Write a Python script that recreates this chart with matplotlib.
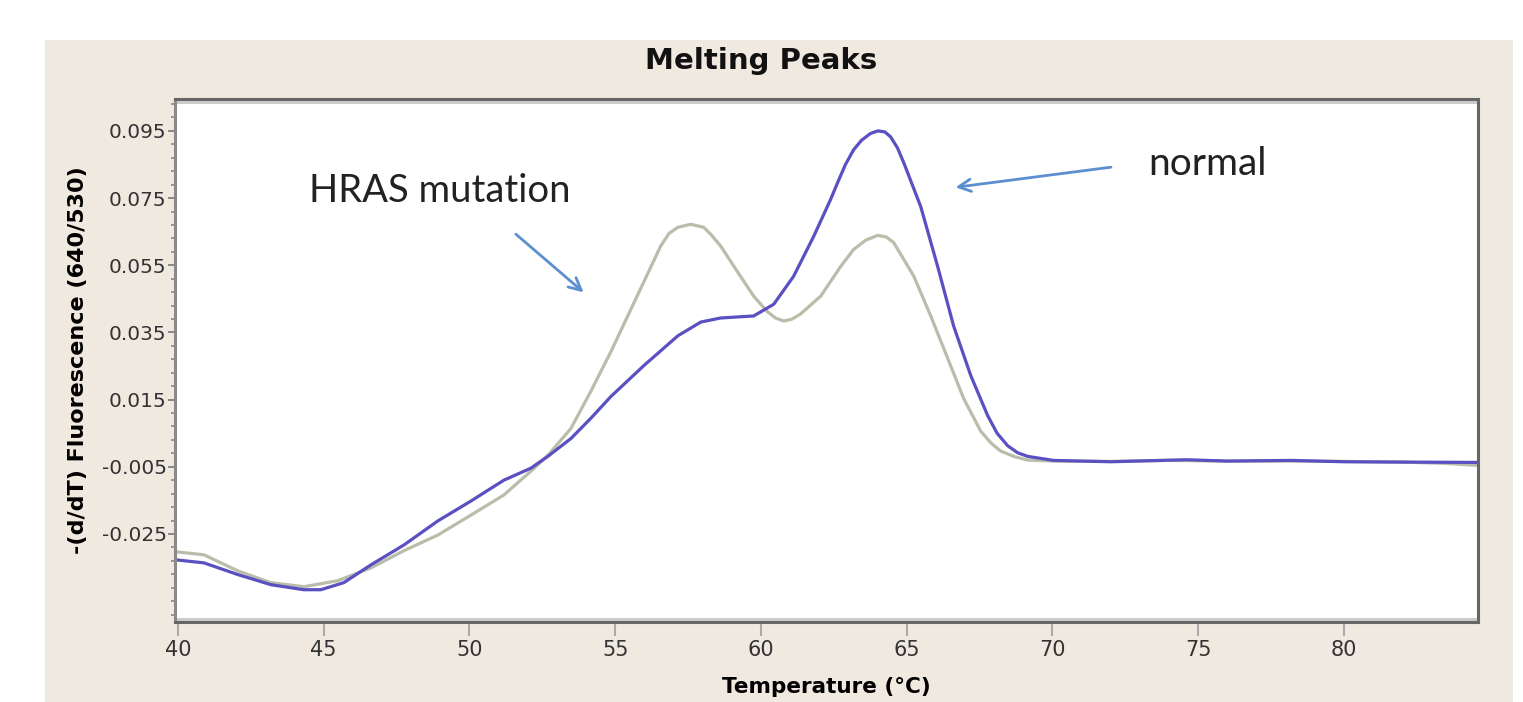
import matplotlib
matplotlib.use("Agg")
import matplotlib.pyplot as plt
from matplotlib.patches import Rectangle
from matplotlib.lines import Line2D

# data
normal_temp = [39.93, 40.89, 42.06, 43.19, 44.32, 44.90, 45.69, 46.62, 47.75, 48.92,
               50.05, 51.18, 52.11, 52.69, 53.48, 54.16, 54.85, 55.98, 57.15, 57.94,
               58.62, 59.75, 60.44, 61.12, 61.81, 62.39, 62.63, 62.90, 63.18, 63.45,
               63.75, 64.01, 64.25, 64.45, 64.68, 64.90, 65.48, 66.06, 66.61, 67.20,
               67.78, 68.10, 68.46, 68.80, 69.15, 70.04,
               72.0, 74.6, 76.0, 78.2, 80.0, 82.0, 84.6]
normal_val = [-0.0327, -0.0336, -0.0371, -0.0401, -0.0416, -0.0416, -0.0395, -0.0342, -0.0283, -0.0211,
              -0.0152, -0.0090, -0.0054, -0.0019, 0.0034, 0.0094, 0.0159, 0.0251, 0.0340, 0.0381,
              0.0393, 0.0399, 0.0434, 0.0517, 0.0636, 0.0746, 0.0796, 0.0850, 0.0894, 0.0922,
              0.0942, 0.0950, 0.0947, 0.0932, 0.0900, 0.0855, 0.0725, 0.0547, 0.0369, 0.0221,
              0.0102, 0.0050, 0.0013, -0.0008, -0.0019, -0.0031,
              -0.0035, -0.0029, -0.0033, -0.0031, -0.0035, -0.0036, -0.0037]

hras_temp = [39.93, 40.89, 42.06, 43.19, 44.32, 45.49, 46.62, 47.75, 48.92, 50.05,
             51.18, 52.11, 52.69, 53.48, 54.16, 54.85, 55.43, 55.98, 56.56, 56.85,
             57.15, 57.59, 58.04, 58.30, 58.62, 59.20, 59.75, 60.23, 60.50, 60.78,
             61.05, 61.36, 62.05, 62.74, 63.18, 63.60, 64.01, 64.30, 64.55, 65.24,
             65.82, 66.41, 66.95, 67.54, 67.90, 68.22, 68.70, 69.15,
             70.04, 72.0, 74.0, 76.0, 78.0, 80.0, 82.0, 83.5, 84.6]
hras_val = [-0.0303, -0.0312, -0.0360, -0.0395, -0.0407, -0.0389, -0.0351, -0.0300, -0.0253, -0.0194,
            -0.0134, -0.0063, -0.0016, 0.0064, 0.0174, 0.0292, 0.0399, 0.0500, 0.0607, 0.0645,
            0.0663, 0.0672, 0.0663, 0.0640, 0.0607, 0.0530, 0.0458, 0.0411, 0.0393, 0.0384,
            0.0389, 0.0405, 0.0458, 0.0547, 0.0597, 0.0625, 0.0639, 0.0634, 0.0618, 0.0518,
            0.0400, 0.0272, 0.0154, 0.0056, 0.0020, -0.0003, -0.0020, -0.0030,
            -0.0033, -0.0034, -0.0031, -0.0033, -0.0033, -0.0034, -0.0036, -0.0040, -0.0046]

x_ticks = [40, 45, 50, 55, 60, 65, 70, 75, 80]
y_ticks = [-0.025, -0.005, 0.015, 0.035, 0.055, 0.075, 0.095]
y_labels = ["-0.025", "-0.005", "0.015", "0.035", "0.055", "0.075", "0.095"]
y_minor = [round(-0.049 + 0.004 * i, 3) for i in range(39)]

fig = plt.figure(figsize=(15.23, 7.02), dpi=100)
fig.patch.set_facecolor("white")

# beige panel behind the chart
fig.patches.append(Rectangle((0.0295, 0.0), 0.964, 0.943, transform=fig.transFigure,
                             facecolor="#f0e9e0", edgecolor="none", zorder=-1))

ax = fig.add_axes([0.1149, 0.114, 0.8556, 0.745])
ax.set_zorder(1)
ax.set_facecolor("white")

ax.plot(hras_temp, hras_val, color="#b9bdaa", lw=2.3, solid_joinstyle="round")
ax.plot(normal_temp, normal_val, color="#5a50c2", lw=2.3, solid_joinstyle="round")

ax.set_xlim(39.9, 84.6)
ax.set_ylim(-0.0512, 0.1045)

ax.set_xticks(x_ticks)
ax.set_yticks(y_ticks)
ax.set_yticklabels(y_labels)
ax.set_yticks(y_minor, minor=True)

ax.tick_params(axis="x", length=10, width=1.5, color="#aaaaaa", labelsize=15,
               labelcolor="#333333", pad=3)
ax.tick_params(axis="y", which="major", length=5, width=1.2, color="#777777",
               labelsize=14.5, labelcolor="#333333", pad=1)
ax.tick_params(axis="y", which="minor", length=3, width=1.2, color="#888888")

for side in ["top", "bottom", "left", "right"]:
    ax.spines[side].set_color("#666666")
    ax.spines[side].set_linewidth(2.2)
ax.spines["left"].set_color("#8a8a8a")

# light bevel lines inside the frame
ax.add_line(Line2D([0, 1], [0.995, 0.995], transform=ax.transAxes, color="#cccccc", lw=2.2))
ax.add_line(Line2D([0, 1], [0.005, 0.005], transform=ax.transAxes, color="#cccccc", lw=2.2))

fig.text(0.5, 0.913, "Melting Peaks", ha="center", va="center",
         fontsize=21, fontweight="bold", color="#111111")
ax.set_xlabel("Temperature (\u00b0C)", fontsize=15.5, fontweight="bold", labelpad=12)
ax.set_ylabel("-(d/dT) Fluorescence (640/530)", fontsize=16, fontweight="bold", labelpad=10)

# annotations
ann_font = ["Lato", "DejaVu Sans"]
ax.text(44.49, 0.0737, "HRAS mutation", fontsize=27.5, family=ann_font, color="#222222",
        va="baseline")
ax.text(73.27, 0.0820, "normal", fontsize=28, family=ann_font, color="#222222",
        va="baseline")
ax.annotate("", xy=(53.99, 0.0464), xytext=(51.52, 0.0648),
            arrowprops=dict(arrowstyle="->", color="#5b8fd0", lw=2, mutation_scale=22))
ax.annotate("", xy=(66.58, 0.0781), xytext=(72.10, 0.0843),
            arrowprops=dict(arrowstyle="->", color="#5b8fd0", lw=2, mutation_scale=22))

plt.savefig("out.png", dpi=100, facecolor=fig.get_facecolor())
